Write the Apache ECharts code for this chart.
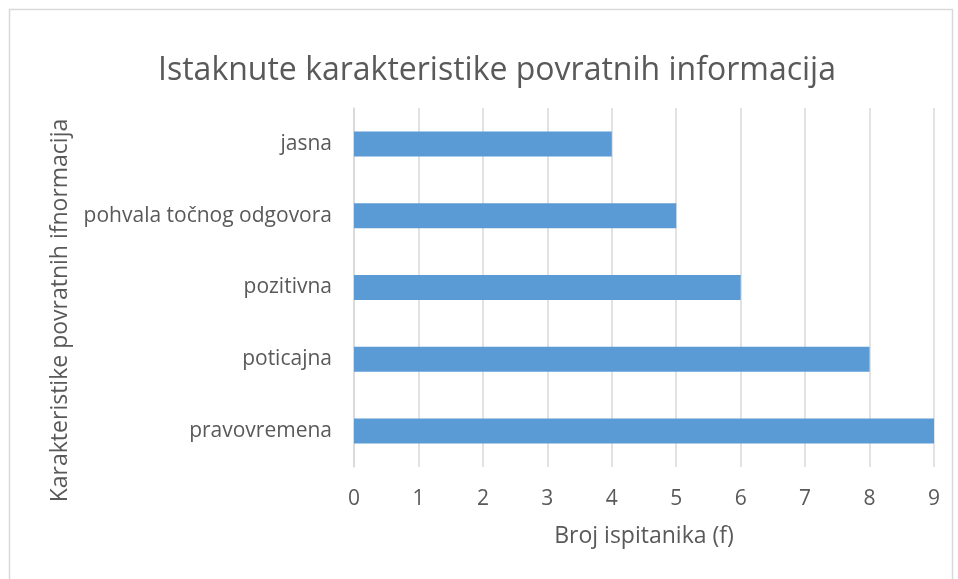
<!DOCTYPE html>
<html><head><meta charset="utf-8">
<script src="https://cdn.jsdelivr.net/npm/echarts@6/dist/echarts.min.js"></script>
<style>html,body{margin:0;padding:0;background:#fff}#c{width:958px;height:579px}</style>
</head><body><div id="c"></div>
<script>
const categories = ['pravovremena','poticajna','pozitivna','pohvala točnog odgovora','jasna'];
const values = [9, 8, 6, 5, 4];
const xTicks = [0,1,2,3,4,5,6,7,8,9];
const titleText = 'Istaknute karakteristike povratnih informacija';
const xName = 'Broj ispitanika (f)';
const yName = 'Karakteristike povratnih ifnormacija';
const FONT = '"Open Sans", sans-serif';
const chart = echarts.init(document.getElementById('c'));
chart.setOption({
  animation: false,
  graphic: [{type:'rect', shape:{x:9.5,y:9.5,width:943,height:600}, style:{fill:'none', stroke:'#d9d9d9', lineWidth:1.5}, silent:true, z:-1}],
  title: {text: titleText, left: 153, top: 50, textStyle:{fontFamily:FONT, fontSize:32, fontWeight:'normal', color:'#595959'}},
  grid: {left: 354, right: 24, top: 108, bottom: 112},
  xAxis: {type:'value', min:0, max:xTicks[xTicks.length-1], interval:1,
    name: xName, nameLocation:'middle', nameGap: 58,
    nameTextStyle:{fontFamily:FONT, fontSize:23, color:'#595959'},
    axisLine:{show:false}, axisTick:{show:false},
    axisLabel:{fontFamily:FONT, fontSize:21, color:'#595959', margin:22},
    splitLine:{lineStyle:{color:'#d9d9d9', width:1.5}}},
  yAxis: {type:'category', data: categories,
    name: yName, nameLocation:'middle', nameGap: 282, nameRotate: 90,
    nameTextStyle:{fontFamily:FONT, fontSize:23, color:'#595959', padding:[0,46,0,0]},
    axisLine:{show:true, lineStyle:{color:'#d9d9d9', width:1.5}}, axisTick:{show:false},
    axisLabel:{fontFamily:FONT, fontSize:21, color:'#595959', margin:22}},
  series: [{type:'bar', data: values, barWidth: 25, itemStyle:{color:'#5b9bd5'}}]
});
</script></body></html>
